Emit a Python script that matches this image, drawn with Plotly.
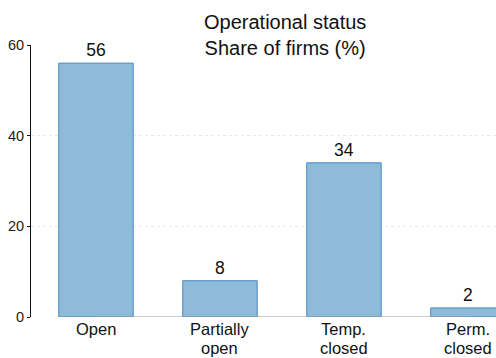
import plotly.graph_objects as go

categories = ["Open", "Partially\nopen", "Temp.\nclosed", "Perm.\nclosed"]
shares = [56, 8, 34, 2]
y_ticks = [0, 20, 40, 60]
title_lines = ["Operational status", "Share of firms (%)"]

FONT = "Liberation Sans, Arial, Helvetica, sans-serif"
x_pos = list(range(len(categories)))

fig = go.Figure()
fig.add_trace(go.Bar(
    x=x_pos,
    y=shares,
    marker=dict(color="#8fbbdb", line=dict(color="#4a86bd", width=1)),
    text=shares,
    texttemplate="%{text}",
    textposition="outside",
    textfont=dict(family=FONT, size=17.5, color="#111"),
    cliponaxis=False,
    width=0.6,
))

# grey baseline running between the first and last category centres
fig.add_shape(type="line", xref="x", yref="y", x0=x_pos[0], x1=x_pos[-1],
              y0=0, y1=0, line=dict(color="#9a9a9a", width=1.2), layer="above")

# category labels, one annotation per line for tight line spacing
for i, label in enumerate(categories):
    for j, line in enumerate(label.split("\n")):
        fig.add_annotation(
            x=i, xref="x", y=0, yref="paper",
            text=line, showarrow=False,
            xanchor="center", yanchor="middle",
            yshift=-12 - 19 * j,
            borderpad=0,
            font=dict(family=FONT, size=16.5, color="#111"),
        )

# two-line title
fig.add_annotation(
    x=(285 - 31) / 465, xref="paper", y=1, yref="paper",
    text="<br>".join(title_lines), showarrow=False,
    xanchor="center", yanchor="top", yshift=36,
    font=dict(family=FONT, size=20, color="#111"),
)

fig.update_layout(
    width=496, height=358,
    margin=dict(l=31, r=0, t=45, b=41),
    paper_bgcolor="white", plot_bgcolor="white",
    showlegend=False,
    font=dict(family=FONT, color="#111"),
    xaxis=dict(
        range=[-0.524, 3.226],
        showticklabels=False,
        showgrid=False, zeroline=False, showline=False, ticks="",
    ),
    yaxis=dict(
        range=[0, 60],
        tickmode="array", tickvals=y_ticks,
        showgrid=True, gridcolor="#e8e8e8", griddash="dot", gridwidth=1,
        zeroline=False, showline=True, linecolor="#111", linewidth=1,
        ticks="outside", ticklen=3, tickcolor="#111",
        tickfont=dict(family=FONT, size=14.5, color="#222"),
    ),
)

fig.write_html("out.html")
